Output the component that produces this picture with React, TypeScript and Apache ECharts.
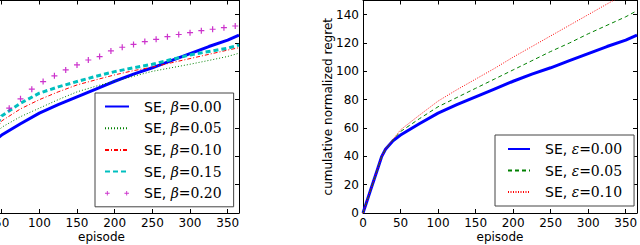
import React, { useEffect, useRef } from "react";
import * as echarts from "echarts";

// shared episode grid (x values)
const episodes = [0, 5, 10, 15, 20, 25, 30, 40, 50, 75, 100, 125, 150, 175, 200, 225, 250, 275, 300, 325, 350, 365];

// right panel: SE with epsilon
const seEps000 = [0, 8, 16, 24, 32, 40, 45, 51, 55, 63, 70.5, 76.5, 82, 87.5, 93, 98, 102.5, 107.5, 112.5, 117.5, 122, 125.5];
const seEps005 = [0, 8, 16, 24, 32, 40, 45, 51.5, 57.5, 66.5, 75, 81.5, 88, 94.5, 101, 107.5, 114, 120, 126.5, 132.5, 138.5, 142.8];
const seEps010 = [0, 8, 16, 24, 32, 40, 45, 52, 58.7, 69, 79, 87, 94.5, 102, 110, 117.5, 125, 132.5, 140, 147.5, 155, 159.5];

// left panel: SE with beta
const seBeta000 = [0, 8, 16, 24, 32, 40, 45, 51, 55, 63, 70.5, 76.5, 82, 87.5, 93, 98, 102.5, 107.5, 112.5, 117.5, 122, 125.5];
const seBeta005 = [0, 8, 16, 24, 32, 40, 46, 54, 60.5, 68, 74, 80, 85.5, 89.5, 93, 96.5, 100, 102.5, 105, 107.7, 110.5, 112.8];
const seBeta010 = [0, 8, 16, 24, 32, 40, 47, 56, 65, 73.5, 80, 85.5, 90.4, 94, 97.5, 100.5, 103, 106, 109, 112, 115, 116.7];
const seBeta015 = [0, 8, 16, 25, 34, 42, 49, 59, 68.5, 77.5, 84.6, 89, 92.8, 96.5, 99.8, 102.5, 105, 108.3, 111.6, 114, 116.3, 118.6];
const beta020Episodes = [60, 75, 90, 105, 120, 135, 150, 165, 180, 195, 210, 225, 240, 255, 270, 285, 300, 315, 330, 345, 360];
const seBeta020 = [74, 80.6, 87.4, 92.8, 96.8, 101, 104.5, 108, 110.4, 114.4, 117, 119, 121, 122.6, 124.5, 126, 127.3, 128.7, 129.7, 130.8, 132];

const xTicks = { min: 0, max: 365, interval: 50 };
const yTicks = { min: 0, max: 150, interval: 20 };

const pairs = (xs: number[], ys: number[]) => xs.map((x, i) => [x, ys[i]]);

const plusPath = "path://M2,0H3V2H5V3H3V5H2V3H0V2H2Z";
const twoPlusPath =
  "path://M2,0H3V2H5V3H3V5H2V3H0V2H2ZM23,0H24V2H26V3H24V5H23V3H21V2H23Z";

const FONT = "DejaVu Sans";

function xAxis(grid: number, pos: "bottom" | "top", labels: boolean, name?: string) {
  return {
    type: "value",
    gridIndex: grid,
    position: pos,
    ...xTicks,
    axisLine: { show: true, onZero: false, lineStyle: { color: "#000", width: 1 } },
    axisTick: { show: true, inside: true, length: 4, lineStyle: { color: "#000", width: 1 } },
    axisLabel: {
      show: labels,
      color: "#000",
      fontFamily: FONT,
      fontSize: 12,
      margin: 4,
      showMaxLabel: false,
    },
    splitLine: { show: false },
    name: name,
    nameLocation: "middle",
    nameGap: 17,
    nameMoveOverlap: false,
    nameTextStyle: { color: "#000", fontFamily: FONT, fontSize: 12, lineHeight: 13 },
  };
}

function yAxis(grid: number, pos: "left" | "right", labels: boolean, name?: string) {
  return {
    type: "value",
    gridIndex: grid,
    position: pos,
    ...yTicks,
    axisLine: { show: true, onZero: false, lineStyle: { color: "#000", width: 1 } },
    axisTick: { show: true, inside: true, length: 4, lineStyle: { color: "#000", width: 1 } },
    axisLabel: {
      show: labels,
      color: "#000",
      fontFamily: FONT,
      fontSize: 12,
      margin: 4,
      showMaxLabel: false,
    },
    splitLine: { show: false },
    name: name,
    nameLocation: "middle",
    nameGap: 29,
    nameMoveOverlap: false,
    nameTextStyle: { color: "#000", fontFamily: FONT, fontSize: 12 },
  };
}

const legendRich = {
  a: { fontFamily: FONT, fontSize: 14, color: "#000", lineHeight: 14, padding: [0, 0, 0, 10] },
  b: { fontFamily: "DejaVu Serif", fontStyle: "italic", fontSize: 14, color: "#000", lineHeight: 14 },
  c: { fontFamily: "DejaVu Serif", fontSize: 14, color: "#000", lineHeight: 14 },
};

const legendFmt = (name: string) => {
  const m = name.match(/^SE, (.)=(.*)$/);
  if (!m) return name;
  return `{a|SE, }{b|${m[1]}}{c|=${m[2]}}`;
};

const lineSeries = (
  name: string,
  xi: number,
  data: number[][],
  color: string,
  width: number,
  type: any
) => ({
  type: "line",
  name,
  xAxisIndex: xi,
  yAxisIndex: xi,
  data,
  showSymbol: false,
  symbol: "none",
  color,
  lineStyle: { color, width, type },
  clip: true,
  z: 2,
});

const lineItem = (name: string) => ({ name, itemStyle: { opacity: 0 } });

export default function App() {
  const ref = useRef<HTMLDivElement>(null);
  useEffect(() => {
    const chart = echarts.init(ref.current!, null, { renderer: "svg" });
    const option: any = {
      animation: false,
      backgroundColor: "#fff",
      grid: [
        { left: -36, right: 401, top: 0.5, bottom: 32, outerBoundsMode: "none", containLabel: false },
        { left: 363, right: 3, top: 0.5, bottom: 32, outerBoundsMode: "none", containLabel: false },
      ],
      xAxis: [
        xAxis(0, "bottom", true, "episode"),
        xAxis(0, "top", false),
        xAxis(1, "bottom", true, "episode"),
        xAxis(1, "top", false),
      ],
      yAxis: [
        yAxis(0, "left", false),
        yAxis(0, "right", false),
        yAxis(1, "left", true, "cumulative normalized regret"),
        yAxis(1, "right", false),
      ],
      legend: [
        {
          orient: "vertical",
          left: 95,
          top: 93,
          itemWidth: 24,
          itemHeight: 14,
          itemGap: 7.7,
          padding: [6.5, 12, 6.5, 9],
          backgroundColor: "#fff",
          borderColor: "#444",
          borderWidth: 1,
          borderRadius: 0,
          formatter: legendFmt,
          textStyle: { rich: legendRich },
          data: [
            lineItem("SE, β=0.00"),
            lineItem("SE, β=0.05"),
            lineItem("SE, β=0.10"),
            lineItem("SE, β=0.15"),
            { name: "SE, β=0.20", icon: twoPlusPath },
          ],
        },
        {
          orient: "vertical",
          left: 495,
          top: 135,
          itemWidth: 22,
          itemHeight: 14,
          itemGap: 7.5,
          padding: [7, 12, 7, 12],
          backgroundColor: "#fff",
          borderColor: "#444",
          borderWidth: 1,
          borderRadius: 0,
          formatter: legendFmt,
          textStyle: { rich: legendRich },
          data: [lineItem("SE, ε=0.00"), lineItem("SE, ε=0.05"), lineItem("SE, ε=0.10")],
        },
      ],
      series: [
        lineSeries("SE, β=0.00", 0, pairs(episodes, seBeta000), "#0000ff", 3, "solid"),
        lineSeries("SE, β=0.05", 0, pairs(episodes, seBeta005), "#008000", 1, [1, 2]),
        lineSeries("SE, β=0.10", 0, pairs(episodes, seBeta010), "#ff0000", 1, [4, 2, 1, 2]),
        lineSeries("SE, β=0.15", 0, pairs(episodes, seBeta015), "#00bfbf", 3, [5, 3]),
        {
          type: "scatter",
          name: "SE, β=0.20",
          xAxisIndex: 0,
          yAxisIndex: 0,
          data: pairs(beta020Episodes, seBeta020),
          symbol: plusPath,
          symbolSize: 6,
          color: "#bf00bf",
          itemStyle: { color: "#bf00bf" },
          clip: true,
          z: 3,
        },
        lineSeries("SE, ε=0.00", 2, pairs(episodes, seEps000), "#0000ff", 3, "solid"),
        lineSeries("SE, ε=0.05", 2, pairs(episodes, seEps005), "#008000", 1, [4, 3]),
        lineSeries("SE, ε=0.10", 2, pairs(episodes, seEps010), "#ff0000", 1, [1, 1.5]),
      ],
    };
    chart.setOption(option);
    return () => chart.dispose();
  }, []);
  return (
    <div
      ref={ref}
      style={{ position: "fixed", left: 0, top: 0, width: 640, height: 245, background: "#fff" }}
    />
  );
}
